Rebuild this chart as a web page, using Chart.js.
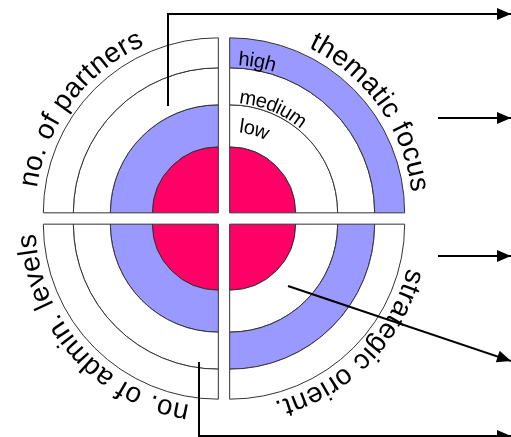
<!DOCTYPE html>
<html>
<head>
<meta charset="utf-8">
<script src="https://cdn.jsdelivr.net/npm/chart.js@4/dist/chart.umd.min.js"></script>
<style>
  html, body { margin: 0; padding: 0; background: #fff; }
  canvas { display: block; }
</style>
</head>
<body>
<canvas id="rings" width="511" height="437"></canvas>
<script>
// quadrants, clockwise from the top
const criteria = ["thematic focus", "strategic orient.", "no. of admin. levels", "no. of partners"];
const shares = [1, 1, 1, 1];
// 3 = high, 2 = medium, 1 = low
const scores = [3, 2, 1, 1];
// rings from outside in
const levels = ["high", "medium", "low"];
const levelScores = [3, 2, 1];
const ringWeights = [30, 37, 42, 66];

const BLUE = "#9999ff";
const RED = "#ff0066";
const EDGE = "#333333";

const datasets = levels.map((lvl, k) => ({
  label: lvl,
  data: shares,
  weight: ringWeights[k],
  backgroundColor: scores.map(s => s === levelScores[k] ? BLUE : "#ffffff")
}));
datasets.push({
  label: "core",
  data: shares,
  weight: ringWeights[3],
  backgroundColor: shares.map(() => RED)
});

function arcText(ctx, text, cx, cy, r, midDeg, size, track) {
  ctx.font = size + "px 'Liberation Sans', Arial, sans-serif";
  const ws = [...text].map(c => ctx.measureText(c).width);
  const total = ws.reduce((a, b) => a + b, 0) + track * (ws.length - 1);
  const rm = r + size * 0.3;
  let a = midDeg * Math.PI / 180 - total / 2 / rm;
  drawChars(ctx, text, ws, cx, cy, r, rm, a, track);
}

function arcTextFrom(ctx, text, cx, cy, r, startPx, size) {
  ctx.font = size + "px 'Liberation Sans', Arial, sans-serif";
  const ws = [...text].map(c => ctx.measureText(c).width);
  const rm = r + size * 0.3;
  drawChars(ctx, text, ws, cx, cy, r, rm, startPx / rm, 0);
}

function drawChars(ctx, text, ws, cx, cy, r, rm, a, track) {
  ctx.fillStyle = "#000";
  ctx.textAlign = "center";
  ctx.textBaseline = "alphabetic";
  [...text].forEach((c, i) => {
    const ang = a + ws[i] / 2 / rm;
    ctx.save();
    ctx.translate(cx, cy);
    ctx.rotate(ang);
    ctx.fillText(c, 0, -r);
    ctx.restore();
    a += (ws[i] + track) / rm;
  });
}

function arrow(ctx, pts) {
  ctx.strokeStyle = "#000";
  ctx.fillStyle = "#000";
  ctx.lineWidth = 2;
  ctx.beginPath();
  ctx.moveTo(pts[0][0], pts[0][1]);
  for (let i = 1; i < pts.length; i++) ctx.lineTo(pts[i][0], pts[i][1]);
  ctx.stroke();
  const [x1, y1] = pts[pts.length - 2];
  const [x2, y2] = pts[pts.length - 1];
  const t = Math.atan2(y2 - y1, x2 - x1);
  ctx.save();
  ctx.translate(x2, y2);
  ctx.rotate(t);
  ctx.beginPath();
  ctx.moveTo(0, 0);
  ctx.lineTo(-14, -6);
  ctx.lineTo(-14, 6);
  ctx.closePath();
  ctx.fill();
  ctx.restore();
}

const OFFSET = 32; // arc element translates by offset / 4
const labelMid = [54.5, 135, 228, -53];

const decor = {
  id: "decor",
  afterDraw(chart) {
    const ctx = chart.ctx;
    const outer = chart.getDatasetMeta(0).data;
    const centers = outer.map(arc => {
      const mid = (arc.startAngle + arc.endAngle) / 2;
      return [arc.x + Math.cos(mid) * OFFSET / 4, arc.y + Math.sin(mid) * OFFSET / 4, arc.outerRadius];
    });

    criteria.forEach((name, i) => {
      const [cx, cy, R] = centers[i];
      arcText(ctx, name, cx, cy, R + 8, labelMid[i], 28, 1);
    });

    // level names in the first quadrant
    const [cx, cy] = centers[0];
    const metas = [0, 1, 2].map(k => chart.getDatasetMeta(k).data[0]);
    arcTextFrom(ctx, levels[0], cx, cy, metas[0].innerRadius + 3, 9, 20);
    arcTextFrom(ctx, levels[1], cx, cy, metas[1].innerRadius + 2, 10, 20);
    arcTextFrom(ctx, levels[2], cx, cy, metas[2].innerRadius + 15, 10, 20);

    arrow(ctx, [[168, 106], [168, 14], [511, 14]]);
    arrow(ctx, [[438, 118], [511, 118]]);
    arrow(ctx, [[438, 256], [511, 256]]);
    arrow(ctx, [[288, 286], [511, 361]]);
    arrow(ctx, [[199, 362], [199, 436], [511, 436]]);
  }
};

new Chart(document.getElementById("rings"), {
  type: "doughnut",
  data: { labels: criteria, datasets: datasets },
  options: {
    responsive: false,
    animation: false,
    radius: 175,
    cutout: 0,
    layout: { padding: { left: 0, right: 63, top: 0, bottom: 0 } },
    events: [],
    elements: {
      arc: { borderColor: EDGE, borderWidth: 1, offset: OFFSET, hoverOffset: 0 }
    },
    plugins: {
      legend: { display: false },
      tooltip: { enabled: false }
    }
  },
  plugins: [decor]
});
</script>
</body>
</html>
